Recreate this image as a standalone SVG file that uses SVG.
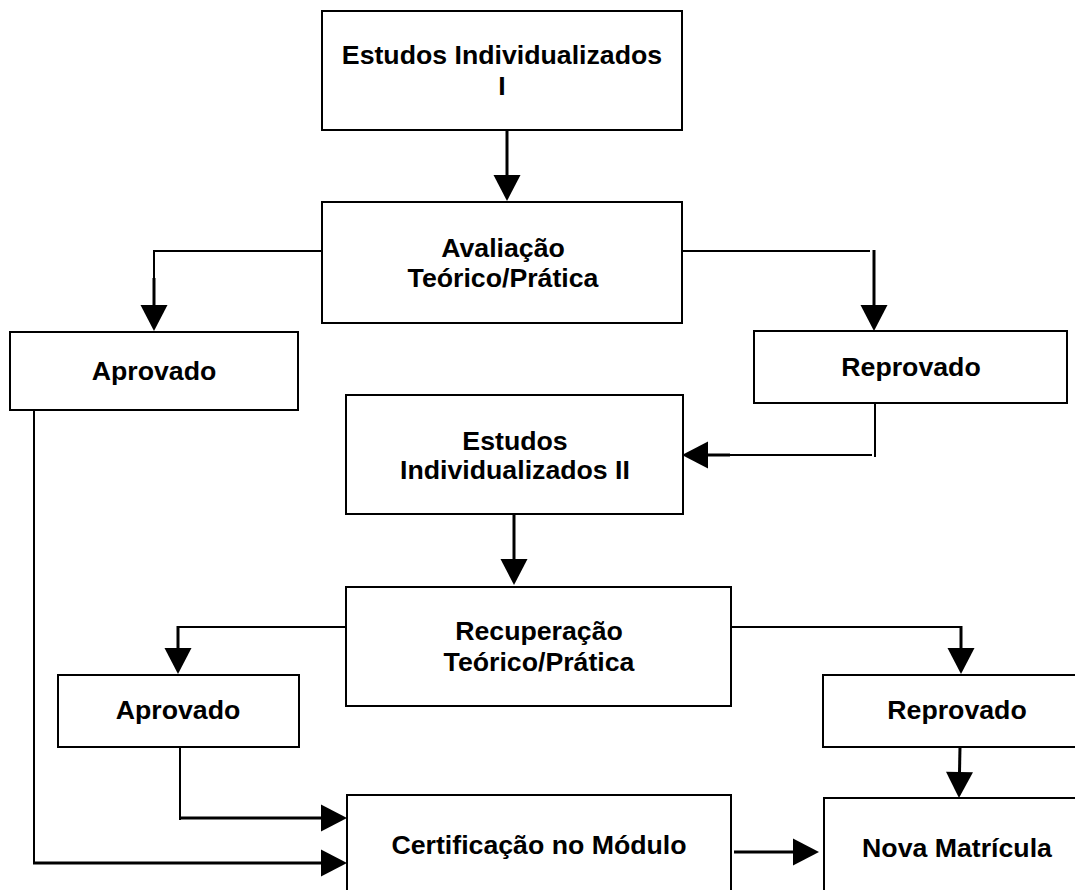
<svg xmlns="http://www.w3.org/2000/svg" width="1075" height="890" viewBox="0 0 1075 890">
<style>
.box{fill:#fff;stroke:#000;stroke-width:2}
.t{font-family:"Liberation Sans",Arial,sans-serif;font-weight:bold;font-size:26.7px;fill:#000;text-anchor:middle}
.c{fill:none;stroke:#000;stroke-width:2}
.ca{fill:none;stroke:#000;stroke-width:3;marker-end:url(#ah)}
</style>
<defs>
<marker id="ah" markerUnits="userSpaceOnUse" markerWidth="27" markerHeight="28" refX="0" refY="13.5" orient="auto" overflow="visible">
<path d="M0,0 L26,13.5 L0,27 Z" fill="#000"/>
</marker>
</defs>
<rect width="1075" height="890" fill="#fff"/>
<g id="connectors">
<path class="ca" d="M507,130 V175"/>
<path class="c" d="M322,251 H154 V280"/>
<path class="ca" d="M154,278 V305"/>
<path class="c" d="M682,251 H870"/>
<path class="ca" d="M874,250 V305"/>
<path class="c" d="M875,403 V457"/>
<path class="c" d="M872,455 H720"/>
<path class="ca" d="M730,455 H708"/>
<path class="ca" d="M514,514 V559"/>
<path class="c" d="M346,627 H178 V630"/>
<path class="ca" d="M178,626 V648"/>
<path class="c" d="M731,627 H961 V630"/>
<path class="ca" d="M961,626 V648"/>
<path class="ca" d="M960,747 L959.5,772"/>
<path class="c" d="M180,747 V820"/>
<path class="ca" d="M180,818 H321"/>
<path class="c" d="M34,410 V864"/>
<path class="ca" d="M33,863 H321"/>
<path class="ca" d="M734,852 H793"/>
</g>
<g id="n1"><rect class="box" x="322" y="11" width="360" height="119"/><text class="t" x="502" y="64">Estudos Individualizados</text><text class="t" x="502" y="95">I</text></g>
<g id="n2"><rect class="box" x="322" y="202" width="360" height="121"/><text class="t" x="503" y="257">Avaliação</text><text class="t" x="503" y="287">Teórico/Prática</text></g>
<g id="n3"><rect class="box" x="10" y="332" width="288" height="78"/><text class="t" x="154" y="380">Aprovado</text></g>
<g id="n4"><rect class="box" x="754" y="331" width="313" height="72"/><text class="t" x="911" y="376">Reprovado</text></g>
<g id="n5"><rect class="box" x="346" y="395" width="337" height="119"/><text class="t" x="515" y="450">Estudos</text><text class="t" x="515" y="479">Individualizados II</text></g>
<g id="n6"><rect class="box" x="346" y="587" width="385" height="119"/><text class="t" x="539" y="640">Recuperação</text><text class="t" x="539" y="671">Teórico/Prática</text></g>
<g id="n7"><rect class="box" x="58" y="675" width="241" height="72"/><text class="t" x="178" y="719">Aprovado</text></g>
<g id="n8"><rect class="box" x="823" y="675" width="267" height="72"/><text class="t" x="957" y="719">Reprovado</text></g>
<g id="n9"><rect class="box" x="347" y="795" width="384" height="110"/><text class="t" x="539" y="854">Certificação no Módulo</text></g>
<g id="n10"><rect class="box" x="824" y="798" width="266" height="110"/><text class="t" x="957" y="857">Nova Matrícula</text></g>
</svg>
